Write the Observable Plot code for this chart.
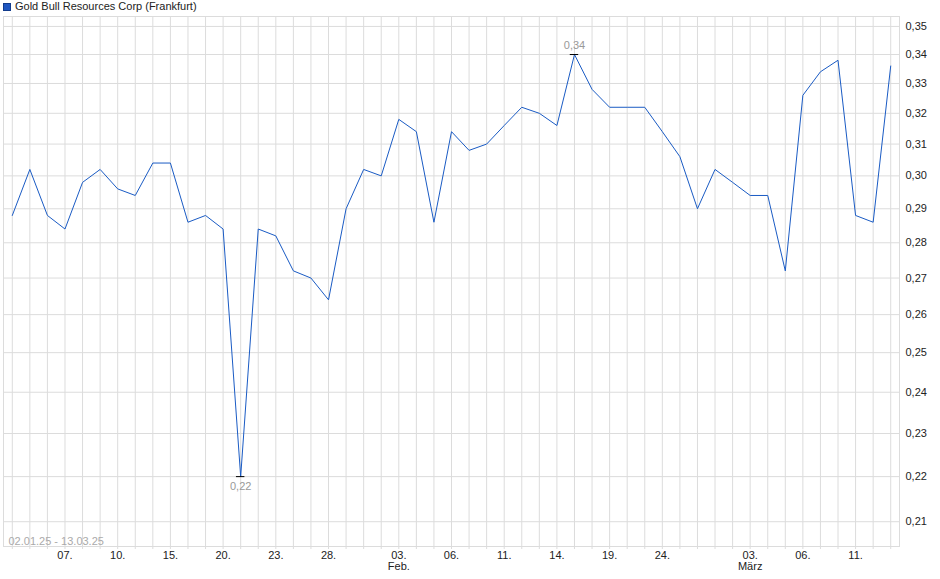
<!DOCTYPE html>
<html>
<head>
<meta charset="utf-8">
<script src="https://cdn.jsdelivr.net/npm/d3@7"></script>
<script src="https://cdn.jsdelivr.net/npm/@observablehq/plot@0.6"></script>
<style>
  html, body { margin: 0; padding: 0; background: #fff; }
  #wrap { position: relative; width: 940px; height: 579px; font-family: "Liberation Sans", Arial, sans-serif; }
  #legend { position: absolute; left: 3px; top: 0px; font-size: 11px; color: #222; line-height: 13px; display: flex; align-items: center; }
  #legend .sw { width: 6px; height: 6px; background: #1f56c0; border: 1px solid #123c8c; margin-right: 4px; }
</style>
</head>
<body>
<div id="wrap">
  <div id="chart"></div>
  <div id="legend"><span class="sw"></span><span>Gold Bull Resources Corp (Frankfurt)</span></div>
</div>
<script>
const dates = [
  "2025-01-02","2025-01-03","2025-01-06","2025-01-07","2025-01-08","2025-01-09","2025-01-10",
  "2025-01-13","2025-01-14","2025-01-15","2025-01-16","2025-01-17","2025-01-20","2025-01-21",
  "2025-01-22","2025-01-23","2025-01-24","2025-01-27","2025-01-28","2025-01-29","2025-01-30",
  "2025-01-31","2025-02-03","2025-02-04","2025-02-05","2025-02-06","2025-02-07","2025-02-10",
  "2025-02-11","2025-02-12","2025-02-13","2025-02-14","2025-02-17","2025-02-18","2025-02-19",
  "2025-02-20","2025-02-21","2025-02-24","2025-02-25","2025-02-26","2025-02-27","2025-02-28",
  "2025-03-03","2025-03-04","2025-03-05","2025-03-06","2025-03-07","2025-03-10","2025-03-11",
  "2025-03-12","2025-03-13"
];
const prices = [
  0.288, 0.302, 0.288, 0.284, 0.298, 0.302, 0.296,
  0.294, 0.304, 0.304, 0.286, 0.288, 0.284, 0.220,
  0.284, 0.282, 0.272, 0.270, 0.264, 0.290, 0.302,
  0.300, 0.318, 0.314, 0.286, 0.314, 0.308, 0.310,
  0.316, 0.322, 0.320, 0.316, 0.340, 0.328, 0.322,
  0.322, 0.322, 0.314, 0.306, 0.290, 0.302, 0.298,
  0.294, 0.294, 0.272, 0.326, 0.334, 0.338, 0.288,
  0.286, 0.336
];
const tickDates = [
  "2025-01-07","2025-01-10","2025-01-15","2025-01-20","2025-01-23","2025-01-28",
  "2025-02-03","2025-02-06","2025-02-11","2025-02-14","2025-02-19","2025-02-24",
  "2025-03-03","2025-03-06","2025-03-11"
];
const tickLabels = [
  "07.","10.","15.","20.","23.","28.",
  "03.\nFeb.","06.","11.","14.","19.","24.",
  "03.\nMärz","06.","11."
];
const yTicks = [0.21,0.22,0.23,0.24,0.25,0.26,0.27,0.28,0.29,0.30,0.31,0.32,0.33,0.34,0.35];
const yDomain = [0.2047, 0.3536];
const rangeText = "02.01.25 - 13.03.25";

const rows = dates.map((d, i) => ({i, date: d, v: prices[i]}));
const n = rows.length;
const tickIdx = tickDates.map(d => dates.indexOf(d));
const labelMap = new Map(tickIdx.map((k, j) => [k, tickLabels[j]]));
const fmt = v => v.toFixed(2).replace(".", ",");
const maxRow = rows.reduce((a, b) => b.v > a.v ? b : a);
const minRow = rows.reduce((a, b) => b.v < a.v ? b : a);
const grid = "#dcdcdc";

const chart = Plot.plot({
  width: 940,
  height: 579,
  marginTop: 16,
  marginBottom: 33,
  marginLeft: 3,
  marginRight: 41,
  style: {fontFamily: "'Liberation Sans', Arial, sans-serif", fontSize: "11px", background: "#fff", color: "#333"},
  x: {type: "linear", domain: [-0.5, n - 0.5], axis: null},
  y: {type: "log", domain: yDomain, axis: null},
  marks: [
    Plot.gridX(d3.range(n), {stroke: grid, strokeOpacity: 1}),
    Plot.gridY(yTicks, {stroke: grid, strokeOpacity: 1}),
    Plot.frame({stroke: grid}),
    Plot.axisX(d3.range(n), {anchor: "bottom", tickSize: 3, stroke: grid, tickFormat: () => "", label: null}),
    Plot.axisX(tickIdx, {anchor: "bottom", tickSize: 0, tickPadding: 4, tickFormat: i => labelMap.get(i), fill: "#222", lineHeight: 1.05, label: null}),
    Plot.axisY(yTicks, {anchor: "right", tickSize: 0, tickPadding: 6, tickFormat: fmt, fill: "#222", label: null}),
    Plot.text([rangeText], {frameAnchor: "bottom-left", text: d => d, dx: 5, dy: -2, lineAnchor: "bottom", textAnchor: "start", fill: "#aaa"}),
    Plot.lineY(rows, {x: "i", y: "v", stroke: "#1a5bc4", strokeWidth: 1}),
    Plot.ruleY([maxRow, minRow], {y: "v", x1: d => d.i - 0.24, x2: d => d.i + 0.24, stroke: "#000", strokeWidth: 1}),
    Plot.text([maxRow], {x: "i", y: "v", text: d => fmt(d.v), dy: -9, fill: "#999"}),
    Plot.text([minRow], {x: "i", y: "v", text: d => fmt(d.v), dy: 10, fill: "#999"})
  ]
});
document.getElementById("chart").appendChild(chart);
</script>
</body>
</html>
